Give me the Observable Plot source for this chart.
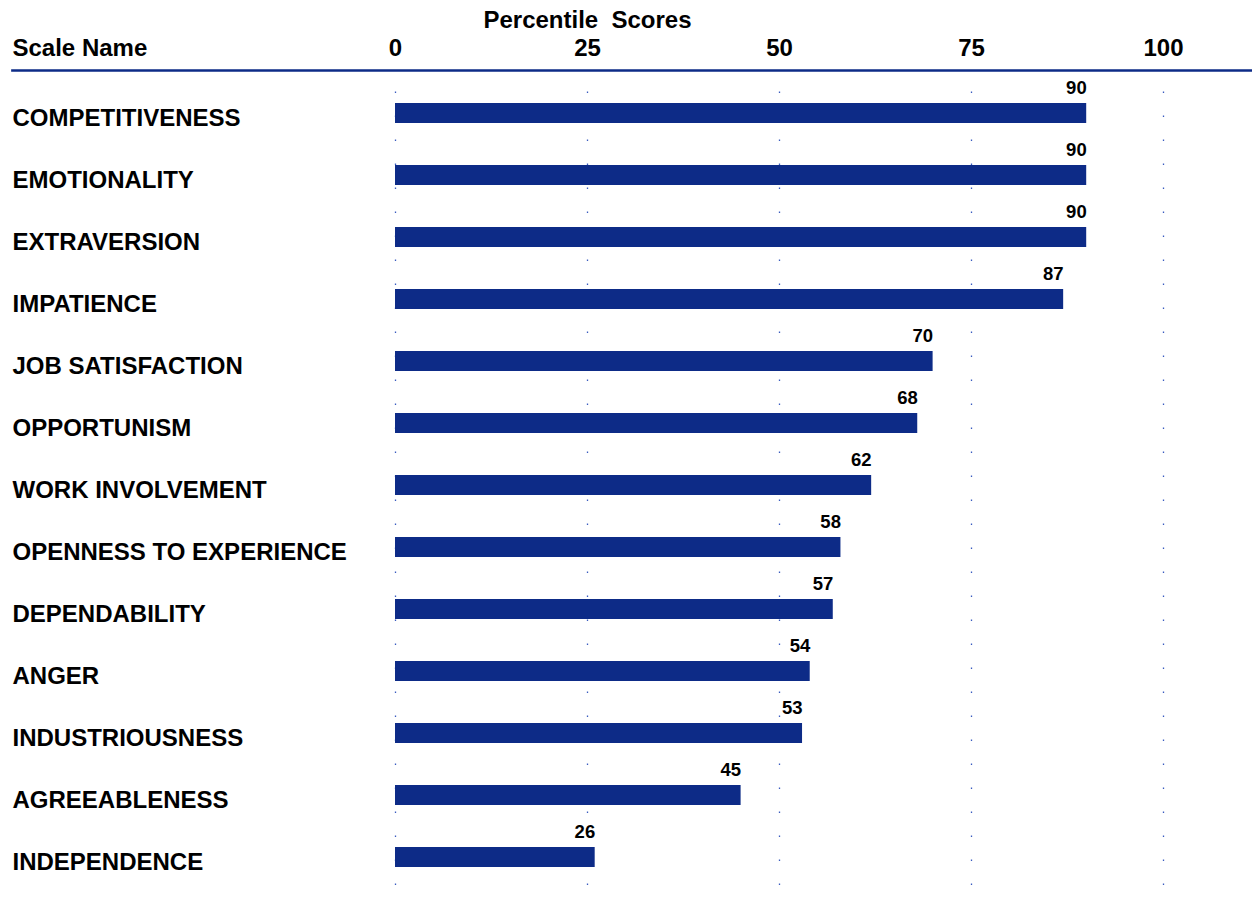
<!DOCTYPE html>
<html>
<head>
<meta charset="utf-8">
<script src="https://cdn.jsdelivr.net/npm/d3@7"></script>
<script src="https://cdn.jsdelivr.net/npm/@observablehq/plot@0.6"></script>
<style>
  html, body { margin: 0; padding: 0; background: #fff; }
  #chart svg text { white-space: pre; }
</style>
</head>
<body>
<div id="chart"></div>
<script>
const scaleNames = [
  "COMPETITIVENESS", "EMOTIONALITY", "EXTRAVERSION", "IMPATIENCE",
  "JOB SATISFACTION", "OPPORTUNISM", "WORK INVOLVEMENT",
  "OPENNESS TO EXPERIENCE", "DEPENDABILITY", "ANGER",
  "INDUSTRIOUSNESS", "AGREEABLENESS", "INDEPENDENCE"
];
const scores = [90, 90, 90, 87, 70, 68, 62, 58, 57, 54, 53, 45, 26];
const tickValues = [0, 25, 50, 75, 100];
const xTitle = "Percentile  Scores";
const yTitle = "Scale Name";

const data = scaleNames.map((name, i) => ({name, score: scores[i]}));
const navy = "#0d2b87";
const font = "'Liberation Sans', Arial, sans-serif";

const chart = Plot.plot({
  width: 1252,
  height: 900,
  marginLeft: 12,
  marginRight: 0,
  marginTop: 70,
  marginBottom: 15,
  style: {fontFamily: font, background: "#fff", overflow: "visible"},
  x: {domain: [0, 100], range: [395, 1163], axis: null},
  y: {type: "band", domain: scaleNames, range: [80.5, 890.3], paddingInner: 0.67, paddingOuter: 0.335, axis: null},
  marks: [
    Plot.ruleX(tickValues, {stroke: "#3a5cc0", strokeWidth: 1.3, strokeDasharray: "1.5,22.5", strokeDashoffset: 2.5}),
    Plot.barX(data, {x: "score", y: "name", fill: navy}),
    Plot.frame({anchor: "top", stroke: navy, strokeWidth: 2.7}),
    Plot.text(data, {x: "score", y: "name", text: d => String(d.score), textAnchor: "end", lineAnchor: "bottom", dy: -19.5, fontSize: 18.5, fontWeight: "bold", fill: "#000"}),
    Plot.text(data, {y: "name", text: "name", frameAnchor: "left", textAnchor: "start", dy: 4.5, fontSize: 24, fontWeight: "bold", fill: "#000"}),
    Plot.text(tickValues, {x: d => d, text: d => String(d), textAnchor: d => d === 0 ? "start" : d === 100 ? "end" : "middle", frameAnchor: "top", lineAnchor: "bottom", dy: -14.5, fontSize: 24, fontWeight: "bold", fill: "#000"}),
    Plot.text([xTitle], {x: () => 25, text: d => d, frameAnchor: "top", lineAnchor: "bottom", dy: -42.5, fontSize: 24, fontWeight: "bold", fill: "#000"}),
    Plot.text([yTitle], {text: d => d, frameAnchor: "top-left", textAnchor: "start", lineAnchor: "bottom", dy: -14.5, fontSize: 24, fontWeight: "bold", fill: "#000"})
  ]
});
document.getElementById("chart").appendChild(chart);
</script>
</body>
</html>
